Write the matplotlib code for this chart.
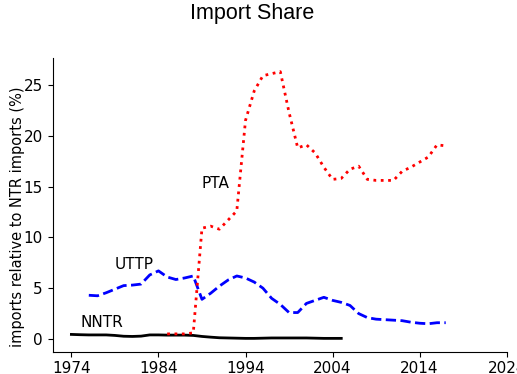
import matplotlib
matplotlib.use('Agg')
import matplotlib.pyplot as plt

# NNTR, UTTP and PTA import shares, percent of NTR imports
nntr_years = list(range(1974, 2006))
nntr_share = [0.45, 0.42, 0.40, 0.40, 0.40, 0.35, 0.27, 0.25, 0.28, 0.40,
              0.40, 0.38, 0.38, 0.38, 0.35, 0.25, 0.18, 0.12, 0.10, 0.08,
              0.06, 0.06, 0.08, 0.10, 0.10, 0.10, 0.10, 0.10, 0.08, 0.06,
              0.06, 0.06]

uttp_years = list(range(1976, 2018))
uttp_share = [4.3, 4.25, 4.55, 4.9, 5.25, 5.3, 5.4, 6.3, 6.7, 6.1,
              5.85, 6.0, 6.2, 3.9, 4.5, 5.2, 5.8, 6.2, 6.0, 5.6,
              5.0, 4.0, 3.4, 2.6, 2.6, 3.5, 3.8, 4.1, 3.8, 3.6,
              3.3, 2.5, 2.1, 1.95, 1.9, 1.85, 1.8, 1.65, 1.55, 1.5,
              1.6, 1.6]

pta_years = list(range(1985, 2018))
pta_share = [0.5, 0.5, 0.5, 0.6, 10.9, 11.1, 10.8, 11.7, 12.6, 21.5,
             24.4, 25.9, 26.1, 26.3, 22.3, 18.8, 19.1, 18.3, 16.9, 15.7,
             15.8, 16.7, 17.0, 15.7, 15.6, 15.6, 15.6, 16.5, 16.9, 17.4,
             17.9, 19.1, 19.0]

xticks = list(range(1974, 2025, 10))

fig = plt.figure(figsize=(5.17, 3.74), dpi=100)
ax = fig.add_axes([0.1019, 0.0596, 0.8781, 0.7845])

ax.plot(nntr_years, nntr_share, color='k', linewidth=2)
ax.plot(uttp_years, uttp_share, color='b', linestyle='--', linewidth=2)
ax.plot(pta_years, pta_share, color='r', linestyle=':', linewidth=2)

ax.text(1975, 1.2, 'NNTR', fontsize=11)
ax.text(1979, 6.9, 'UTTP', fontsize=11)
ax.text(1989, 14.9, 'PTA', fontsize=11)

ax.set_xticks(xticks)
ax.tick_params(labelsize=11)
ax.set_ylabel('imports relative to NTR imports (%)', fontsize=10.5)
ax.yaxis.set_label_coords(-0.062, 0.46)
ax.spines['top'].set_visible(False)
ax.spines['right'].set_visible(False)

fig.suptitle('Import Share', x=0.4875, y=0.991, va='top',
             fontsize=15.5, family='Liberation Sans')

fig.savefig('out.png', dpi=100)
